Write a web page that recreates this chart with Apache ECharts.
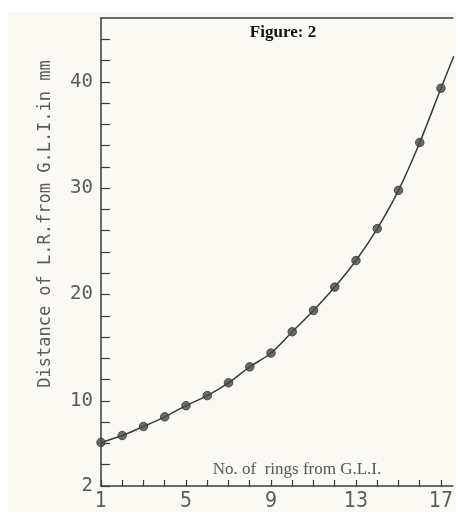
<!DOCTYPE html>
<html>
<head>
<meta charset="utf-8">
<script src="https://cdn.jsdelivr.net/npm/echarts@6/dist/echarts.min.js"></script>
<style>
html,body{margin:0;padding:0;background:#ffffff;}
#chart{width:456px;height:512px;}
</style>
</head>
<body>
<div id="chart"></div>
<script>
// Data
var rings = [1, 2, 3, 4, 5, 6, 7, 8, 9, 10, 11, 12, 13, 14, 15, 16, 17];
var distance = [6.1, 6.75, 7.6, 8.5, 9.55, 10.5, 11.7, 13.2, 14.5, 16.5, 18.5, 20.7, 23.2, 26.2, 29.8, 34.3, 39.4];
// fitted curve continues past the last ring (clipped at frame edge)
var tailRing = [17.6];
var tailDistance = [42.4];
var xLabels = [1, 5, 9, 13, 17];
var yLabels = [2, 10, 20, 30, 40];

var points = rings.map(function (r, i) { return [r, distance[i]]; });
var curve = points.concat(tailRing.map(function (r, i) { return [r, tailDistance[i]]; }));

var chart = echarts.init(document.getElementById('chart'), null, {renderer: 'canvas'});
var axisColor = '#3a3a3a';
var labelColor = '#5a5a5a';

chart.setOption({
  backgroundColor: '#ffffff',
  animation: false,
  grid: {left: 101, right: 0, top: 18, bottom: 22, containLabel: false},
  graphic: [
    {type: 'rect', z: -10, shape: {x: 8, y: 12, width: 448, height: 500}, style: {fill: '#fbf9f3'}},
    {type: 'text', x: 283, y: 33, style: {text: 'Figure: 2', font: 'bold 17px "Liberation Serif", serif', fill: '#111', textAlign: 'center', textVerticalAlign: 'middle'}},
    {type: 'text', x: 297, y: 470, style: {text: 'No. of  rings from G.L.I.', font: '17px "Liberation Serif", serif', fill: '#555', textAlign: 'center', textVerticalAlign: 'middle'}},
    {type: 'text', x: 46, y: 224, rotation: Math.PI / 2, style: {text: 'Distance of L.R.from G.L.I.in mm', font: '17px "DejaVu Sans Mono", monospace', fill: '#5a5a5a', textAlign: 'center', textVerticalAlign: 'middle'}}
  ],
  xAxis: [{
    type: 'value', min: 1, max: 17.56, interval: 1,
    axisLine: {show: true, lineStyle: {color: axisColor, width: 1.5}},
    axisTick: {show: true, inside: true, length: 6, lineStyle: {color: axisColor, width: 1.2}},
    splitLine: {show: false},
    axisLabel: {
      margin: 5, color: labelColor, fontSize: 21, fontFamily: '"Liberation Sans Narrow", "DejaVu Sans Condensed", sans-serif',
      showMaxLabel: false,
      formatter: function (v) { return xLabels.indexOf(v) >= 0 ? String(v) : ''; }
    }
  }, {
    type: 'value', position: 'top', min: 1, max: 17.56,
    axisLine: {show: true, lineStyle: {color: axisColor, width: 1.5}},
    axisTick: {show: false}, axisLabel: {show: false}, splitLine: {show: false}
  }],
  yAxis: {
    type: 'value', min: 2, max: 46, interval: 2,
    axisLine: {show: true, lineStyle: {color: axisColor, width: 1.5}},
    axisTick: {show: true, inside: true, length: 9, lineStyle: {color: axisColor, width: 1.2}},
    splitLine: {show: false},
    axisLabel: {
      margin: 8, color: labelColor, fontSize: 19, fontFamily: '"DejaVu Sans Mono", monospace',
      showMaxLabel: false,
      formatter: function (v) { return yLabels.indexOf(v) >= 0 ? String(v) : ''; }
    }
  },
  series: [{
    type: 'line', data: curve, smooth: 0.35, showSymbol: false, clip: true,
    lineStyle: {color: '#3a3a3a', width: 1.5}, z: 2
  }, {
    type: 'scatter', data: points, symbolSize: 8.5, z: 3,
    itemStyle: {color: '#474747', borderColor: '#333', borderWidth: 1}
  }]
});
</script>
</body>
</html>
